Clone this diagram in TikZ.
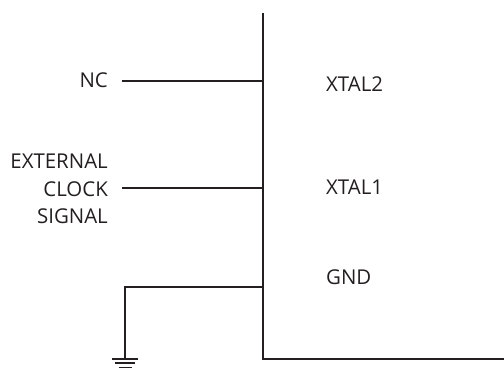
\documentclass[tikz,border=0pt]{standalone}
\usepackage{fontspec}
\setmainfont{Open Sans}
\definecolor{ink}{HTML}{231F20}
\tikzset{wire/.style={draw=ink, line width=1.3bp},
	pinlabel/.style={anchor=west, inner sep=0, text=ink, font=\fontsize{20.5}{27.5}\selectfont},
	siglabel/.style={anchor=east, inner xsep=14bp, inner ysep=0, align=right, text=ink, font=\fontsize{20.5}{27.5}\selectfont}}
\begin{document}
\begin{tikzpicture}[x=1bp, y=1bp]
\useasboundingbox (0,0) rectangle (504,369);
\draw[wire] (263,356) -- (263,10) -- (504,10); % chip outline
\coordinate (xtaltwopin) at (263,288);
\coordinate (xtalonepin) at (263,181);
\coordinate (gndpin) at (263,82);
\node[pinlabel] (xtaltwo) at (326,285) {XTAL2};
\node[pinlabel] (xtalone) at (326,182) {XTAL1};
\node[pinlabel] (gnd) at (326,92) {GND};
\node[siglabel] (nc) at (122,289) {NC};
\node[siglabel] (clk) at (122,180) {EXTERNAL\\CLOCK\\SIGNAL};
\draw[wire] (nc.east |- xtaltwopin) -- (xtaltwopin);
\draw[wire] (clk.east |- xtalonepin) -- (xtalonepin);
\coordinate (earth) at (125,10);
\draw[wire] (gndpin) -| (earth); % ground
\draw[wire] ([xshift=-13bp]earth) -- ([xshift=13bp]earth);
\draw[wire] ([shift={(-10bp,-4bp)}]earth) -- ([shift={(10bp,-4bp)}]earth);
\draw[wire] ([shift={(-6.5bp,-8.5bp)}]earth) -- ([shift={(6.5bp,-8.5bp)}]earth);
\end{tikzpicture}
\end{document}
